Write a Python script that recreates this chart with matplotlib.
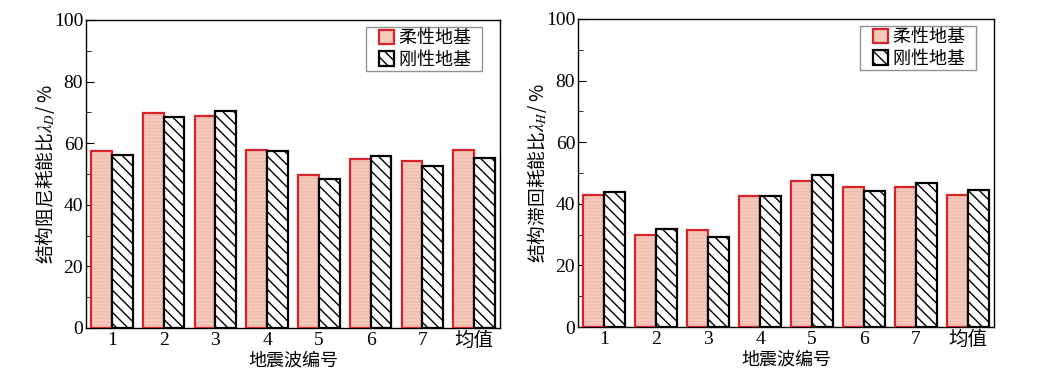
import numpy as np
import matplotlib
matplotlib.use("Agg")
import matplotlib.pyplot as plt
from matplotlib.patches import Patch, Rectangle
from matplotlib.legend_handler import HandlerPatch
from matplotlib.ticker import MultipleLocator

plt.rcParams["font.family"] = ["Liberation Serif", "Noto Sans CJK SC"]
plt.rcParams["mathtext.fontset"] = "stix"
plt.rcParams["hatch.linewidth"] = 1.0

groups = ["1", "2", "3", "4", "5", "6", "7", "均值"]
series_names = ["柔性地基", "刚性地基"]

# damping energy ratio lambda_D (%)
damp_flex = [57.5, 69.7, 68.7, 57.7, 49.6, 54.9, 54.1, 57.7]
damp_rigid = [56.1, 68.4, 70.6, 57.4, 48.5, 55.8, 52.6, 55.1]

# hysteretic energy ratio lambda_H (%)
hyst_flex = [42.7, 30.0, 31.4, 42.4, 47.3, 45.3, 45.3, 42.7]
hyst_rigid = [43.9, 31.7, 29.3, 42.6, 49.2, 44.3, 46.9, 44.6]

PINK = "#f6cbbd"
RED = "#d8232a"
W = 0.4

fig = plt.figure(figsize=(10.38, 3.85), dpi=100)
ax_l = fig.add_axes([86 / 1038, 57 / 385, 414 / 1038, 308 / 385])
ax_r = fig.add_axes([578 / 1038, 58 / 385, 416 / 1038, 308 / 385])


def square_handle(legend, orig_handle, xdescent, ydescent, width, height, fontsize):
    # small square pushed to the right end of the handle box
    side = height * 1.08
    return Rectangle((width - side - xdescent, -ydescent - 0.04 * height), side, side)


def draw(ax, flex, rigid, ylabel):
    x = np.arange(len(groups))
    # flexible foundation: pink fill with faint horizontal lines, red edge
    ax.bar(x - W / 2, flex, W, color=PINK, edgecolor="#f0bcae",
           hatch="-----", linewidth=0, zorder=2)
    ax.bar(x - W / 2, flex, W, fill=False, edgecolor=RED,
           linewidth=1.6, zorder=3)
    # rigid foundation: white with black diagonal hatch
    ax.bar(x + W / 2, rigid, W, color="white", edgecolor="black",
           hatch="\\\\\\", linewidth=1.6, zorder=4)

    ax.set_xlim(-0.5, len(groups) - 0.5)
    ax.set_ylim(0, 100)
    ax.set_xticks(x)
    ax.set_xticklabels(groups)
    ax.tick_params(axis="x", length=0, labelsize=14, pad=3)
    ax.yaxis.set_major_locator(MultipleLocator(20))
    ax.yaxis.set_minor_locator(MultipleLocator(10))
    ax.tick_params(axis="y", which="major", direction="in", length=6,
                   labelsize=14, right=False, pad=2)
    ax.tick_params(axis="y", which="minor", direction="in", length=3.5,
                   right=False)
    for s in ax.spines.values():
        s.set_linewidth(1.0)
    ax.set_xlabel("地震波编号", fontsize=13, labelpad=1,
                  family="Noto Sans CJK SC")
    ax.set_ylabel(ylabel, fontsize=13.5, labelpad=-2,
                  family="Noto Sans CJK SC")

    handles = [
        Patch(facecolor=PINK, edgecolor=RED, linewidth=1.6,
              label=series_names[0] + "\u2002"),
        Patch(facecolor="white", edgecolor="black", hatch="\\\\\\",
              linewidth=1.6, label=series_names[1] + "\u2002"),
    ]
    hmap = {h: HandlerPatch(patch_func=square_handle) for h in handles}
    leg = ax.legend(handles=handles, handler_map=hmap, loc="upper right",
                    bbox_to_anchor=(0.957, 0.977),
                    prop={"family": ["Noto Sans CJK SC", "DejaVu Sans"], "size": 13},
                    frameon=True, fancybox=False, edgecolor="#777777",
                    handlelength=1.45, handleheight=0.8, handletextpad=0.28,
                    borderpad=0.12, labelspacing=0.2, borderaxespad=0.0)
    leg.get_frame().set_linewidth(1.0)


draw(ax_l, damp_flex, damp_rigid, r"结构阻尼耗能比$\lambda_D$/ %")
draw(ax_r, hyst_flex, hyst_rigid, r"结构滞回耗能比$\lambda_H$/ %")

fig.savefig("out.png", dpi=100)
